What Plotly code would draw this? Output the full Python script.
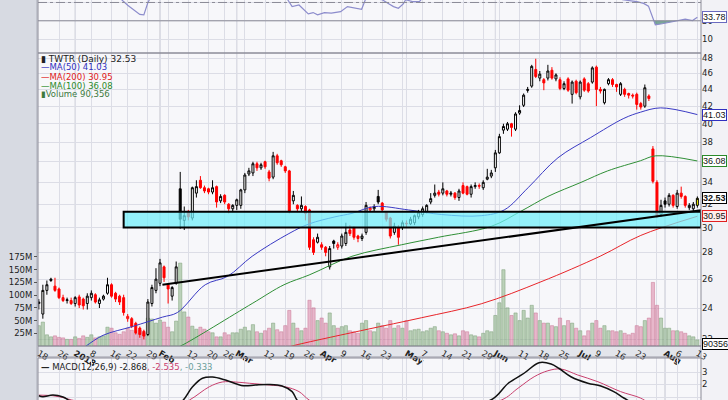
import numpy as np
import plotly.graph_objects as go

W, H = 728, 400
def py(y):  # pixel row -> paper y
    return 1 - y / H
PX0, PX1 = 38 / W, 701 / W

# ---------------- data ----------------
opens = [24.3,23.6,25.2,26.0,25.5,25.3,24.7,24.5,24.5,24.3,24.75,24.6,24.3,24.7,24.9,24.3,24.6,25.0,25.6,25.0,
         24.8,24.7,23.3,23.3,23.0,22.7,22.5,22.3,24.3,25.2,25.7,26.9,25.6,24.8,25.7,33.4,30.6,31.3,30.8,33.0,
         34.2,33.5,33.4,33.1,33.6,32.3,32.8,32.0,31.6,31.9,31.9,33.3,34.8,34.9,35.8,35.4,36.0,35.0,34.5,36.6,
         36.1,35.5,35.1,32.3,31.9,31.6,31.8,31.5,29.0,28.8,28.6,28.4,26.9,28.9,28.4,28.5,28.7,29.8,30.0,29.3,
         29.1,29.6,31.5,31.6,32.7,32.1,31.3,30.8,29.6,30.0,30.0,30.3,30.3,30.4,30.9,31.1,31.3,32.2,32.8,33.1,
         33.0,33.2,32.9,33.0,32.6,33.7,33.6,32.9,33.6,33.7,33.5,34.3,34.6,35.4,36.9,39.3,39.4,40.0,39.4,41.2,
         42.1,44.0,44.4,46.5,45.4,45.2,45.4,46.4,45.3,45.2,44.1,45.3,43.4,45.0,43.1,45.3,44.7,44.9,46.8,44.0,
         42.4,44.7,45.2,44.6,43.4,44.0,43.5,43.3,43.4,42.3,42.0,43.2,37.3,34.0,31.1,32.3,32.0,32.8,31.8,33.0,
         32.7,31.7,31.6,31.9]
highs = [24.6,25.6,25.9,26.1,26.1,25.4,24.9,24.7,24.7,24.8,24.9,24.7,25.0,25.2,25.0,24.7,24.9,26.1,25.7,25.1,
         24.9,24.9,23.6,23.4,23.1,22.8,22.6,24.6,25.6,26.8,27.5,27.0,25.7,25.5,27.3,35.0,31.8,31.5,33.6,34.2,
         34.6,33.7,33.5,34.2,33.7,32.9,32.9,32.1,32.0,32.5,33.4,34.9,35.4,36.0,36.0,35.9,36.1,35.2,37.0,36.8,
         36.2,35.6,35.2,33.2,32.0,32.7,31.9,31.6,29.2,29.5,28.8,28.5,28.5,29.0,28.8,29.5,30.4,30.2,30.1,29.4,
         29.5,32.2,31.8,32.0,33.3,32.2,31.4,30.9,30.4,30.2,30.6,30.6,30.9,31.1,31.5,31.8,32.0,33.0,33.8,33.3,
         34.0,33.3,33.2,33.1,33.4,34.0,33.7,33.8,34.0,33.9,34.2,35.3,35.2,37.2,38.9,40.0,40.2,40.1,41.3,42.1,
         43.5,44.3,47.1,47.9,46.3,45.4,47.1,46.8,46.0,45.5,45.0,45.5,45.1,45.2,45.1,45.5,44.9,46.9,47.0,44.3,
         44.1,45.4,45.4,44.7,44.9,44.2,43.6,43.5,43.6,42.5,44.6,43.4,37.6,34.2,32.4,32.6,33.0,32.9,33.3,33.6,
         32.8,32.1,32.2,32.7]
lows = [23.9,23.3,24.9,25.8,25.1,24.6,24.4,24.3,24.2,24.1,24.0,23.9,23.9,24.5,24.3,24.0,24.5,24.9,24.7,24.4,
        24.2,23.5,23.1,22.7,22.3,22.1,22.0,22.2,24.1,25.0,25.5,25.8,24.3,24.5,25.6,29.9,29.8,30.6,30.6,32.6,
        33.4,33.0,32.9,32.9,31.7,32.1,32.0,31.2,31.3,31.5,31.6,33.0,34.6,34.6,35.1,35.2,35.3,34.1,34.3,35.7,
        35.5,34.9,31.2,32.0,31.3,31.4,30.6,28.2,27.8,28.7,28.2,27.7,26.7,28.3,28.2,28.3,28.5,29.3,29.0,28.8,
        28.9,29.4,31.3,31.4,32.0,31.3,30.5,29.1,29.4,28.6,29.8,30.0,30.2,30.2,30.7,30.9,31.2,32.0,32.6,32.7,
        32.8,32.7,32.7,32.4,32.3,32.9,32.8,32.6,33.4,33.4,33.3,34.2,34.4,35.0,36.8,38.9,39.2,38.6,39.2,41.0,
        41.9,43.6,44.2,45.4,45.0,43.9,45.1,45.2,45.0,43.9,43.9,43.7,42.3,43.4,42.8,43.7,43.6,44.7,42.0,43.5,
        42.2,44.5,44.3,43.7,43.2,43.1,42.9,42.9,41.6,41.6,41.8,42.6,33.9,30.8,30.9,31.7,31.8,31.7,31.6,32.5,
        31.7,31.5,31.4,31.7]
closes = [24.4,25.2,25.6,25.9,25.2,24.7,24.5,24.55,24.3,24.7,24.2,24.15,24.8,25.0,24.4,24.55,24.8,25.6,24.8,24.6,
          24.4,23.7,23.45,22.8,22.4,22.3,22.2,24.4,25.4,26.0,27.2,26.1,25.3,25.4,26.9,30.7,31.0,30.9,33.5,33.6,
          33.5,33.2,33.1,33.5,32.2,32.7,32.2,31.6,31.9,32.4,33.3,34.7,35.1,35.8,35.4,35.7,35.5,34.4,36.6,35.9,
          35.7,35.1,31.4,32.8,31.6,31.9,31.2,28.4,28.0,29.2,28.4,28.0,28.3,28.7,28.6,29.3,29.6,29.5,29.2,29.1,
          29.3,31.9,31.7,31.8,32.2,31.5,30.7,29.3,30.1,29.2,30.4,30.35,30.7,31.0,31.3,31.6,31.9,32.5,33.0,32.9,
          33.4,32.9,33.0,32.6,33.2,33.0,32.9,33.6,33.7,33.65,34.0,34.5,34.9,36.9,38.6,39.7,40.0,39.6,41.1,41.5,
          43.3,43.9,46.9,45.6,45.9,44.8,46.3,45.4,45.8,44.1,44.7,43.9,44.9,43.6,44.9,43.9,43.8,46.7,44.0,43.8,
          44.0,45.2,44.6,44.3,44.7,43.4,43.3,43.2,42.2,41.9,44.2,42.9,34.1,31.0,31.9,32.0,32.8,31.9,33.0,32.7,
          31.9,31.9,32.0,32.53]
volumes_m = [40,47,22,18,20,17,16,13,13,18,15,20,17,22,16,18,20,37,35,26,
             23,28,35,31,25,31,26,55,53,45,51,47,37,28,49,163,67,57,39,33,
             37,33,28,26,18,18,26,22,26,26,33,37,30,42,28,25,30,35,45,32,
             28,40,70,45,35,30,35,90,75,50,55,45,65,40,35,38,40,30,28,25,
             45,50,30,28,45,40,35,50,35,40,35,50,30,32,33,28,30,35,38,30,
             28,25,22,24,20,30,28,22,20,18,25,30,28,60,85,150,75,60,65,50,
             70,55,80,65,50,45,45,40,38,55,40,50,45,35,30,20,30,45,50,35,
             40,30,30,28,30,25,22,25,40,38,50,55,125,80,55,35,35,30,30,28,
             25,20,18,12]

ma50_x = [10, 11.7, 15.9, 23.2, 30.6, 34.3, 41.2, 46.7, 52.8, 61.9, 66.9, 73.3, 77.5, 83.1, 91.5, 99.7,
          109.5, 115.2, 121.1, 128.5, 136.6, 144.8, 148.9, 153.9, 163]
ma50_v = [21.3, 21.6, 22.25, 22.8, 23.4, 23.7, 25.6, 26.2, 27.7, 29.5, 30.3, 30.9, 31.2, 31.8, 31.5, 31.1,
          31.0, 31.5, 33.5, 36.4, 38.5, 40.6, 41.3, 41.8, 41.03]
ma100_x = [33, 35.1, 52.8, 60.7, 66.9, 77.5, 89.8, 98.9, 112, 119.4, 126.0, 134.2, 140.8, 148.9, 152.7, 163]
ma100_v = [21.4, 21.6, 24.3, 25.6, 26.3, 27.7, 28.6, 29.2, 30.1, 31.4, 32.7, 34.0, 35.1, 36.1, 36.6, 36.08]
ma200_x = [60, 62.7, 80.7, 94.7, 109.5, 124.3, 139.1, 149.0, 163]
ma200_v = [21.4, 21.6, 22.59, 23.36, 24.28, 25.81, 27.73, 29.35, 30.95]

rsi_x = [0, 10, 17, 20, 22, 24, 25, 26, 27, 28, 35, 45, 55, 60, 61.6, 62.7, 64.4, 66.7, 67.9, 69, 70.7, 72.4,
         74.7, 76.4, 78.2, 79.9, 81, 85, 86.7, 87.8, 89, 90.2, 90.8, 92.5, 94.2, 95, 100, 120, 140, 144.5,
         148, 149.7, 150.9, 152.6, 154.3, 156, 158.3, 160, 161.8, 163]
rsi_v = [58, 56, 60, 55, 47, 40, 37, 36.5, 50, 58, 75, 62, 68, 58, 53, 45.5, 47.3, 37.6, 39, 36.5, 39, 38.3,
         40, 45.5, 43.7, 42.6, 55, 53, 48.4, 45.5, 43.7, 48.4, 53, 51, 51, 55, 62, 85, 60, 53,
         50.9, 49, 46, 25.7, 26.8, 28.2, 30.3, 31.8, 30.3, 33.78]

macd_x = [0, 1, 3.5, 6, 7.7, 10, 30, 35.6, 38, 40.5, 43, 46.2, 50.6, 53.6, 57, 60.2, 62.7, 63.9, 66, 100,
          111.9, 116.2, 120.1, 123.8, 126.8, 128.7, 131.7, 135.9, 139.1, 142.3, 144.8, 147, 155, 163]
macd_v = [1.1, 1.02, 1.16, 1.0, 0.7, 0.4, -0.5, 0.7, 1.8, 2.5, 2.6, 2.36, 1.9, 1.96, 2.0, 1.88, 1.43, 0.76, 0.0, 0.2,
          0.76, 2.1, 2.9, 3.74, 3.64, 3.3, 2.62, 2.1, 1.88, 1.43, 0.92, 0.5, -1.5, -2.868]
signal_x = [0, 3.5, 6, 9, 30, 37.3, 42.2, 45.4, 48.6, 52.1, 57, 61, 64.4, 66.9, 70, 100, 114.5, 118.6, 122.6,
            126, 129.2, 133.4, 138.4, 144, 148.9, 151, 163]
signal_v = [1.15, 1.1, 0.95, 0.7, -0.3, 0.76, 1.82, 2.2, 2.2, 2.1, 1.96, 1.82, 1.43, 0.76, 0.3, 0.0, 0.76, 1.7, 2.62,
            3.1, 3.24, 2.76, 2.22, 1.43, 0.92, 0.5, -2.535]

trend_x = [30.6, 163.9]
trend_v = [25.6, 31.48]
zone_x = [21.0, 163.9]
zone_v = [30.0, 31.33]

tick_idx = [0, 5, 9, 13, 18, 22, 27, 30, 32, 37, 42, 46, 49, 51, 56, 61, 66, 70, 75, 80, 85, 90, 91, 95, 100,
            105, 110, 113, 114, 119, 124, 129, 134, 138, 143, 148, 153, 155, 158, 163]
tick_text = ['18', '26', '<b>2018</b>', '8', '16', '22', '29', '<b>Feb</b>', '', '12', '20', '26', '<b>Mar</b>', '',
             '12', '19', '26', '<b>Apr</b>', '9', '16', '23', '', '<b>May</b>', '7', '14', '21', '29', '<b>Jun</b>', '',
             '11', '18', '25', '<b>Jul</b>', '9', '16', '23', '', '<b>Aug</b>', '6', '13']
month_idx = [9, 30, 49, 70, 91, 113, 134, 155]
price_ticks = [22, 24, 26, 28, 30, 32, 34, 36, 38, 40, 42, 44, 46, 48]
vol_ticks_m = [25, 50, 75, 100, 125, 150, 175]

# ---------------- figure ----------------
FONT = "DejaVu Sans"
TAGFONT = "Liberation Sans"
n = len(closes)
prev = [closes[0]] + closes[:-1]
idx = list(range(n))
black_i = [i for i in idx[:-1] if closes[i] >= prev[i]]
red_i = [i for i in idx[:-1] if closes[i] < prev[i]]

fig = go.Figure()

up_col = 'rgba(150,185,145,0.62)'
dn_col = 'rgba(215,120,155,0.50)'
vcols = [up_col if closes[i] >= prev[i] else dn_col for i in idx]
vlines = ['rgba(120,155,115,0.8)' if closes[i] >= prev[i] else 'rgba(195,100,135,0.7)' for i in idx]
fig.add_trace(go.Bar(x=idx, y=[v * 1e6 for v in volumes_m], marker=dict(color=vcols, line=dict(color=vlines, width=0.6)),
                     width=0.8, xaxis='x', yaxis='y2', hoverinfo='skip', showlegend=False))

def candles(sel, col, fill_up='white'):
    return go.Candlestick(x=sel, open=[opens[i] for i in sel], high=[highs[i] for i in sel],
                          low=[lows[i] for i in sel], close=[closes[i] for i in sel],
                          increasing=dict(line=dict(color=col, width=1), fillcolor=fill_up),
                          decreasing=dict(line=dict(color=col, width=1), fillcolor=col),
                          whiskerwidth=0, xaxis='x', yaxis='y3', hoverinfo='skip', showlegend=False)

fig.add_trace(go.Scatter(x=ma200_x, y=ma200_v, mode='lines', line=dict(color='#e8252a', width=1, shape='spline'),
                         xaxis='x', yaxis='y3', hoverinfo='skip', showlegend=False))
fig.add_trace(go.Scatter(x=ma100_x, y=ma100_v, mode='lines', line=dict(color='#2f8f36', width=1, shape='spline'),
                         xaxis='x', yaxis='y3', hoverinfo='skip', showlegend=False))
fig.add_trace(go.Scatter(x=ma50_x, y=ma50_v, mode='lines', line=dict(color='#3a3ac4', width=1, shape='spline'),
                         xaxis='x', yaxis='y3', hoverinfo='skip', showlegend=False))
fig.add_trace(candles(black_i, '#000000'))
fig.add_trace(candles(red_i, '#ff0000'))
fig.add_trace(candles([n - 1], '#000000', fill_up='#ffff00'))

# RSI panel
rx = np.array(rsi_x, float); rv = np.array(rsi_v, float)
fx, fy = [], []
for i in range(len(rx) - 1):
    a, b = rv[i], rv[i + 1]
    if a < 30 or b < 30:
        if a >= 30:
            t = (a - 30) / (a - b); fx.append(rx[i] + t * (rx[i + 1] - rx[i])); fy.append(30)
        else:
            fx.append(rx[i]); fy.append(a)
        if b >= 30:
            t = (a - 30) / (a - b); fx.append(rx[i] + t * (rx[i + 1] - rx[i])); fy.append(30)
if fx:
    fig.add_trace(go.Scatter(x=fx + fx[::-1], y=fy + [30] * len(fx), fill='toself', mode='lines',
                             line=dict(width=0), fillcolor='rgba(80,140,120,0.75)', xaxis='x', yaxis='y',
                             hoverinfo='skip', showlegend=False))
fig.add_trace(go.Scatter(x=rsi_x, y=rsi_v, mode='lines', line=dict(color='#8c8ccc', width=1.2),
                         xaxis='x', yaxis='y', hoverinfo='skip', showlegend=False))

fig.add_trace(go.Scatter(x=signal_x, y=signal_v, mode='lines', line=dict(color='#c8406e', width=1, shape='spline'),
                         xaxis='x', yaxis='y4', hoverinfo='skip', showlegend=False))
fig.add_trace(go.Scatter(x=macd_x, y=macd_v, mode='lines', line=dict(color='#111111', width=1.5, shape='spline'),
                         xaxis='x', yaxis='y4', hoverinfo='skip', showlegend=False))

grid = '#dcdde6'
tickfont = dict(family=FONT, size=8.5, color='#222')
D_RSI = [py(53), 1.0]
D_MAIN = [py(346), py(53)]
D_MACD = [0.0, py(358)]

fig.update_layout(
    width=W, height=H, margin=dict(l=0, r=0, t=0, b=0, autoexpand=False),
    paper_bgcolor='#f2f2f6', plot_bgcolor='#f7f7fa', showlegend=False, bargap=0,
    xaxis=dict(domain=[PX0, PX1], range=[-0.2, 163.9], anchor='y2', tickvals=tick_idx, ticktext=tick_text,
               tickfont=tickfont, showgrid=True, gridcolor=grid, gridwidth=1, zeroline=False, ticks='',
               showline=False, fixedrange=True, rangeslider=dict(visible=False), ticklabelstandoff=0,
               automargin=False),
    yaxis=dict(domain=D_RSI, range=[-5.1, 52.7], side='right', anchor='x', tickvals=[10, 30, 50],
               tickfont=tickfont, showgrid=True, gridcolor=grid, zeroline=False, ticks='', automargin=False),
    yaxis2=dict(domain=D_MAIN, range=[0, 576e6], side='left', anchor='x', tickvals=[v * 1e6 for v in vol_ticks_m],
                ticktext=[f'{v}M' for v in vol_ticks_m], tickfont=tickfont, showgrid=False, zeroline=False,
                ticks='outside', ticklen=3, tickcolor='#555', automargin=False),
    yaxis3=dict(domain=D_MAIN, overlaying='y2', type='log', range=[np.log10(21.6), np.log10(48.67)], side='right',
                anchor='x', tickvals=price_ticks, ticktext=[str(v) for v in price_ticks], tickfont=tickfont,
                showgrid=True, gridcolor=grid, zeroline=False, ticks='', automargin=False),
    yaxis4=dict(domain=D_MACD, range=[0.76, 4.12], side='right', anchor='x', tickvals=[1, 2, 3],
                tickfont=tickfont, showgrid=True, gridcolor=grid, zeroline=False, ticks='', automargin=False),
)

shapes = []
shapes.append(dict(type='rect', xref='paper', yref='paper', x0=0, x1=37 / W, y0=0, y1=1,
                   fillcolor='#d7dae2', line=dict(width=0), layer='below'))
shapes.append(dict(type='line', xref='paper', yref='paper', x0=37 / W, x1=37 / W, y0=0, y1=1,
                   line=dict(color='#a9acb8', width=1), layer='below'))
shapes.append(dict(type='rect', xref='paper', yref='paper', x0=PX0, x1=PX1, y0=py(357), y1=py(346),
                   fillcolor='#e3e5eb', line=dict(color='#9a9aa6', width=1), layer='below'))
for m in month_idx:
    for (ya, yb) in [(0, 53), (53, 346), (358, 400)]:
        shapes.append(dict(type='line', xref='x', yref='paper', x0=m, x1=m, y0=py(yb), y1=py(ya),
                           line=dict(color='#c2c3cd', width=1), layer='below'))
shapes.append(dict(type='line', xref='paper', yref='y', x0=PX0, x1=PX1, y0=50, y1=50,
                   line=dict(color='#8a8a96', width=1, dash='dashdot')))
shapes.append(dict(type='line', xref='paper', yref='y', x0=PX0, x1=PX1, y0=30, y1=30,
                   line=dict(color='#8a8a96', width=1)))
shapes.append(dict(type='rect', xref='x', yref='y3', x0=zone_x[0], x1=zone_x[1], y0=zone_v[0], y1=zone_v[1],
                   fillcolor='rgba(110,238,250,0.72)', line=dict(color='#000', width=2), layer='above'))
shapes.append(dict(type='line', xref='x', yref='y3', x0=trend_x[0], x1=trend_x[1], y0=trend_v[0], y1=trend_v[1],
                   line=dict(color='#000', width=2), layer='above'))
for (ya, yb) in [(-2, 53), (53, 346), (358, 402)]:
    shapes.append(dict(type='rect', xref='paper', yref='paper', x0=PX0, x1=PX1, y0=py(yb), y1=py(ya),
                       line=dict(color='#8c8c98', width=1), fillcolor='rgba(0,0,0,0)', layer='above'))
fig.update_layout(shapes=shapes)

ann = []
def legend(y, text, color, size=8.5):
    ann.append(dict(xref='paper', yref='paper', x=39 / W, y=py(y), xanchor='left', yanchor='middle',
                    text=text, showarrow=False, font=dict(family=FONT, size=size, color=color)))
legend(59, '▮ TWTR (Daily) 32.53', '#222', 9)
legend(67.5, '—MA(50) 41.03', '#3030c0')
legend(76.5, '—MA(200) 30.95', '#e02020')
legend(85.5, '—MA(100) 36.08', '#2a8a2a')
legend(94.5, '▮Volume 90,356', '#3d7a3d')
ann.append(dict(xref='paper', yref='paper', x=39 / W, y=py(367), xanchor='left', yanchor='middle', showarrow=False,
                text="<b>—</b> MACD(12,26,9) -2.868<span style='color:#c8406e'>, -2.535</span>"
                     "<span style='color:#6a9e9a'>, -0.333</span>",
                font=dict(family=FONT, size=8.5, color='#222')))

def tag(yref, yval, text, border, bold=False, bg='#ffffff'):
    ann.append(dict(xref='paper', yref=yref, x=PX1 + 0.5 / W, y=yval, xanchor='left', yanchor='middle',
                    text=f'<b>{text}</b>' if bold else text, showarrow=False, bgcolor=bg, bordercolor=border,
                    borderwidth=1, borderpad=0, font=dict(family=TAGFONT, size=9, color='#111')))
tag('y3', np.log10(41.03), '41.03', '#3030c0')
tag('y3', np.log10(36.08), '36.08', '#2a8a2a')
tag('y3', np.log10(32.53), '32.53', '#000', bold=True)
tag('y3', np.log10(30.95), '30.95', '#e02020', bg='#ffecec')
tag('y', 33.78, '33.78', '#6a6ac0')
tag('paper', py(343.5), '90356', '#000')
fig.update_layout(annotations=ann)

fig.write_html('out.html', config={'displayModeBar': False, 'staticPlot': True},
               post_script="document.body.style.margin='0';document.body.style.overflow='hidden';")
